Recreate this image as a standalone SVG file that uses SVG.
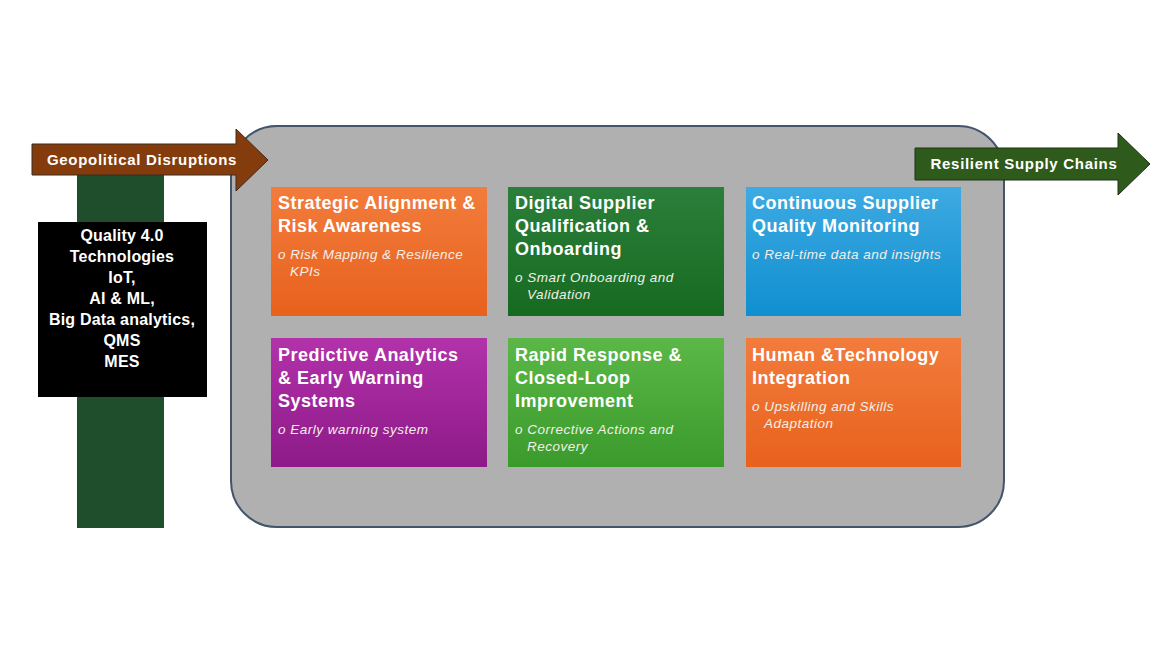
<svg xmlns="http://www.w3.org/2000/svg" width="1170" height="658" viewBox="0 0 1170 658">
<style>
.t{font-family:"Liberation Sans",Arial,sans-serif;font-weight:bold;font-size:18px;letter-spacing:0.5px;fill:#fff}
.s{font-family:"Liberation Sans",Arial,sans-serif;font-style:italic;font-size:13.5px;letter-spacing:0.5px;fill:#f3efe9}
.b{font-family:"Liberation Sans",Arial,sans-serif;font-weight:bold;font-size:16px;letter-spacing:0.2px;fill:#fff;text-anchor:middle}
.a{font-family:"Liberation Sans",Arial,sans-serif;font-weight:bold;font-size:15px;letter-spacing:0.7px;fill:#fff;text-anchor:middle}
</style>
<defs>
<linearGradient id="gOr" x1="0" y1="0" x2="0" y2="1"><stop offset="0" stop-color="#f27c3c"/><stop offset="1" stop-color="#e8611d"/></linearGradient>
<linearGradient id="gDg" x1="0" y1="0" x2="0" y2="1"><stop offset="0" stop-color="#2b7f3a"/><stop offset="1" stop-color="#166a20"/></linearGradient>
<linearGradient id="gBl" x1="0" y1="0" x2="0" y2="1"><stop offset="0" stop-color="#3eaae2"/><stop offset="1" stop-color="#0f8fd0"/></linearGradient>
<linearGradient id="gPu" x1="0" y1="0" x2="0" y2="1"><stop offset="0" stop-color="#b232aa"/><stop offset="1" stop-color="#8d1a88"/></linearGradient>
<linearGradient id="gLg" x1="0" y1="0" x2="0" y2="1"><stop offset="0" stop-color="#5bb848"/><stop offset="1" stop-color="#3a9a2b"/></linearGradient>
</defs>
<rect width="1170" height="658" fill="#fff"/>
<g id="panel">
<rect x="231" y="126" width="773" height="401" rx="46" ry="46" fill="#b0b0b0" stroke="#44546a" stroke-width="2"/>
</g>
<g id="quality-bar">
<rect x="77" y="175" width="87" height="353" fill="#1f4e2c"/>
</g>
<g id="quality-box">
<rect x="38" y="222" width="169" height="175" fill="#000"/>
<text class="b" x="122" y="241">Quality 4.0</text>
<text class="b" x="122" y="262">Technologies</text>
<text class="b" x="122" y="283">IoT,</text>
<text class="b" x="122" y="304">AI &amp; ML,</text>
<text class="b" x="122" y="325">Big Data analytics,</text>
<text class="b" x="122" y="346">QMS</text>
<text class="b" x="122" y="367">MES</text>
</g>
<g id="connectors">
<g id="arrow-geo">
<polygon points="32,144 236,144 236,129 268,160 236,191 236,175 32,175" fill="#843c0c" stroke="#3b2a20" stroke-width="1"/>
<text class="a" x="142" y="165">Geopolitical Disruptions</text>
</g>
<g id="arrow-resilient">
<polygon points="915,148 1118,148 1118,133 1150,164 1118,195 1118,180 915,180" fill="#2e5a1c" stroke="#1f3314" stroke-width="1"/>
<text class="a" x="1024" y="169">Resilient Supply Chains</text>
</g>
</g>
<g id="box-strategic">
<rect x="271" y="187" width="216" height="129" fill="url(#gOr)"/>
<text class="t" x="278" y="209">Strategic Alignment &amp;</text>
<text class="t" x="278" y="232">Risk Awareness</text>
<text class="s" x="278" y="259">o Risk Mapping &amp; Resilience</text>
<text class="s" x="290" y="276">KPIs</text>
</g>
<g id="box-digital">
<rect x="508" y="187" width="216" height="129" fill="url(#gDg)"/>
<text class="t" x="515" y="209">Digital Supplier</text>
<text class="t" x="515" y="232">Qualification &amp;</text>
<text class="t" x="515" y="255">Onboarding</text>
<text class="s" x="515" y="282">o Smart Onboarding and</text>
<text class="s" x="527" y="299">Validation</text>
</g>
<g id="box-continuous">
<rect x="746" y="187" width="215" height="129" fill="url(#gBl)"/>
<text class="t" x="752" y="209">Continuous Supplier</text>
<text class="t" x="752" y="232">Quality Monitoring</text>
<text class="s" x="752" y="259">o Real-time data and insights</text>
</g>
<g id="box-predictive">
<rect x="271" y="338" width="216" height="129" fill="url(#gPu)"/>
<text class="t" x="278" y="361">Predictive Analytics</text>
<text class="t" x="278" y="384">&amp; Early Warning</text>
<text class="t" x="278" y="407">Systems</text>
<text class="s" x="278" y="434">o Early warning system</text>
</g>
<g id="box-rapid">
<rect x="508" y="338" width="216" height="129" fill="url(#gLg)"/>
<text class="t" x="515" y="361">Rapid Response &amp;</text>
<text class="t" x="515" y="384">Closed-Loop</text>
<text class="t" x="515" y="407">Improvement</text>
<text class="s" x="515" y="434">o Corrective Actions and</text>
<text class="s" x="527" y="451">Recovery</text>
</g>
<g id="box-human">
<rect x="746" y="338" width="215" height="129" fill="url(#gOr)"/>
<text class="t" x="752" y="361">Human &amp;Technology</text>
<text class="t" x="752" y="384">Integration</text>
<text class="s" x="752" y="411">o Upskilling and Skills</text>
<text class="s" x="764" y="428">Adaptation</text>
</g>
</svg>
